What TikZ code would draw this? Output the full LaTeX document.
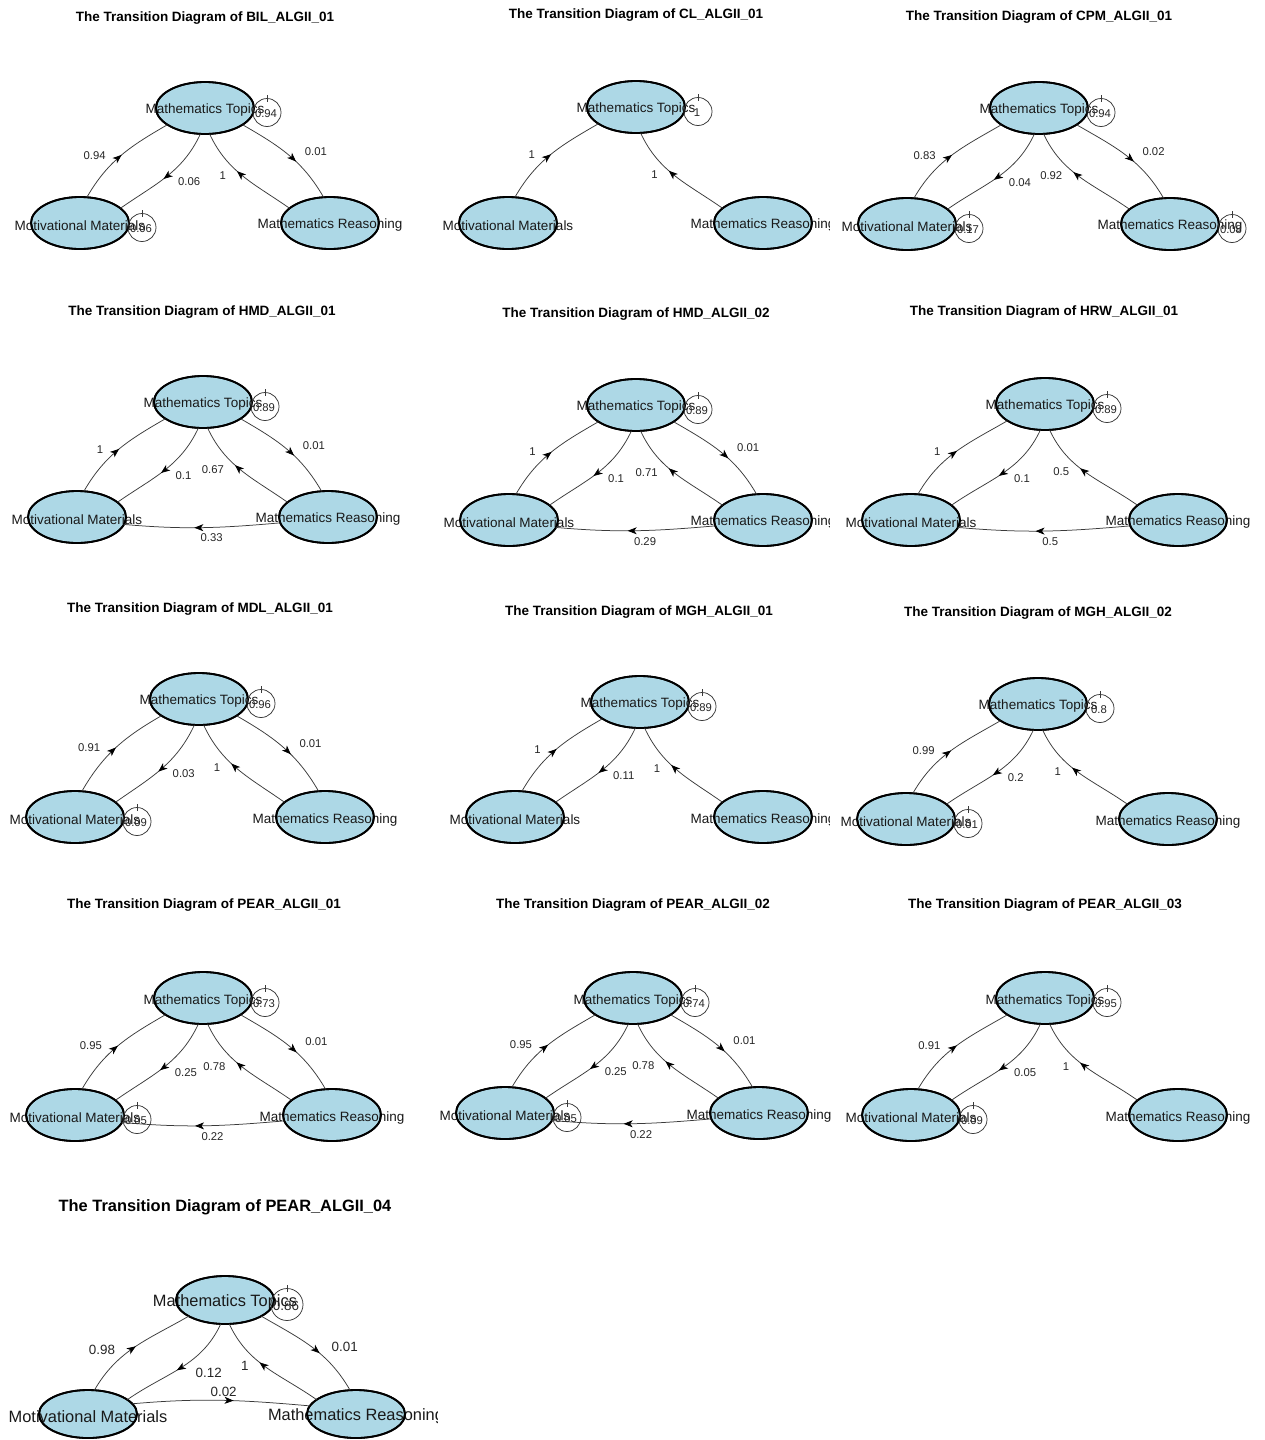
\documentclass[tikz,border=0pt]{standalone}
\usepackage{fontspec}
\setmainfont{Liberation Sans}
\usetikzlibrary{shapes.geometric,arrows.meta,decorations.markings}
\definecolor{nodeblue}{HTML}{ADD8E6}
\definecolor{edgecol}{HTML}{3A3A3A}
\def\nsize{13.5pt}\def\lsize{11.3pt}\def\tsize{13.5pt}
\def\erx{49pt}\def\ery{26pt}\def\eh{52pt}\def\lr{14pt}\def\ls{1}
\tikzset{
 st/.style={ellipse, fill=nodeblue, draw=black, line width=1.8pt, minimum width=98pt, minimum height=\eh, inner sep=0pt, outer sep=0pt},
 ntext/.style={inner sep=0pt, yshift=-2.5pt, font=\fontsize{\nsize}{\nsize}\selectfont, text=black!90},
 lab/.style={inner sep=0pt, font=\fontsize{\lsize}{\lsize}\selectfont, text=black!85},
 ttl/.style={inner sep=0pt, yshift=-2.5pt, font=\bfseries\fontsize{\tsize}{\tsize}\selectfont},
 rim/.style={draw=black, line width=1.8pt},
 ed/.style={draw=edgecol, line width=0.75pt},
 arr/.style={postaction={decorate, decoration={markings, mark=at position #1 with {\arrow{Stealth[length=9pt,width=7pt,inset=2.5pt,color=black]}}}}},
 loopc/.style={draw=edgecol, line width=0.75pt},
}
% states: id, Tx, Ty, Lx, Ly, Rx, Ry, clip x for right text
\newcommand\states[8]{%
 \node[st] (#1T) at (#2,-#3) {};
 \node[st] (#1L) at (#4,-#5) {};
 \node[st] (#1R) at (#6,-#7) {};
 \node[ntext] (#1Tt) at (#1T.center) {Mathematics Topics};
 \node[ntext] (#1Lt) at (#1L.center) {Motivational Materials};
 \begin{scope}
  \clip (#6-200,-#7+40) rectangle (#8,-#7-40);
  \node[ntext] (#1Rt) at (#1R.center) {Mathematics Reasoning};
 \end{scope}
 \draw[rim] (#1T.center) ellipse [x radius=\erx, y radius=\ery];
 \draw[rim] (#1L.center) ellipse [x radius=\erx, y radius=\ery];
 \draw[rim] (#1R.center) ellipse [x radius=\erx, y radius=\ery];
}
% connectors (id, label)
\newcommand\eLT[2]{\draw[ed,arr=0.5] (#1L.75) to[out=60,in=210] node[pos=0.47,lab,anchor=east,xshift=-13pt*\ls,yshift=2pt-3pt*(\ls-1)/0.3] (#1lt) {#2} (#1T.204);}
\newcommand\eTL[2]{\draw[ed,arr=0.53] (#1T.260) to[out=245,in=35] node[pos=0.5,lab,anchor=west,xshift=11pt*\ls,yshift=-5pt] (#1tl) {#2} (#1L.20);}
\newcommand\eRT[2]{\draw[ed,arr=0.58] (#1R.160) to[out=145,in=295] node[pos=0.55,lab,anchor=east,xshift=-13pt,yshift=-2pt] (#1rt) {#2} (#1T.280);}
\newcommand\eTR[2]{\draw[ed,arr=0.59] (#1T.336) to[out=330,in=120] node[pos=0.56,lab,anchor=west,xshift=11pt*\ls,yshift=8pt-4pt*(\ls-1)/0.3] (#1tr) {#2} (#1R.104);}
\newcommand\eRL[2]{\draw[ed,arr=0.55] (#1R.187) to[out=185,in=355] node[pos=0.52,lab,anchor=north west,xshift=1pt,yshift=-6pt] (#1rl) {#2} (#1L.351);}
\newcommand\eLR[2]{\draw[ed,arr=0.57] (#1L.13) to[out=5,in=175] node[pos=0.54,lab,anchor=south,xshift=-4pt,yshift=3pt] (#1lr) {#2} (#1R.170);}
% self loop: node, label, label name
\newcommand\selfloop[3]{%
 \draw[loopc] ([shift={(62pt,-4.5pt)}]#1.center) circle[radius=\lr];
 \draw[loopc] ([shift={(62pt,-4.5pt+\lr-3pt)}]#1.center) -- ([shift={(62pt,-4.5pt+\lr+4pt)}]#1.center);
 \node[lab] (#3) at ([shift={(61pt,-6pt)}]#1.center) {#2};
}
\begin{document}
\begin{tikzpicture}[x=1pt,y=1pt]
\useasboundingbox[fill=white] (0,0) rectangle (1265,-1440);

% ---------- BIL
\node[ttl] (ttlA) at (205,-16) {The Transition Diagram of BIL\_ALGII\_01};
\states{a}{205}{108}{80}{223}{330}{223}{1265}
\eLT{a}{0.94}\eTL{a}{0.06}\eRT{a}{1}\eTR{a}{0.01}
\selfloop{aT}{0.94}{aTl}\selfloop{aL}{0.06}{aLl}

% ---------- CL
\node[ttl] (ttlB) at (636,-13) {The Transition Diagram of CL\_ALGII\_01};
\states{b}{636}{107}{508}{223}{763}{223}{829}
\eLT{b}{1}\eRT{b}{1}
\selfloop{bT}{1}{bTl}

% ---------- CPM
\node[ttl] (ttlC) at (1039,-15) {The Transition Diagram of CPM\_ALGII\_01};
\states{c}{1039}{108}{907}{224}{1170}{224}{1265}
\eLT{c}{0.83}\eTL{c}{0.04}\eRT{c}{0.92}\eTR{c}{0.02}
\selfloop{cT}{0.94}{cTl}\selfloop{cL}{0.17}{cLl}\selfloop{cR}{0.08}{cRl}

% ---------- HMD_01
\node[ttl] (ttlD) at (202,-310) {The Transition Diagram of HMD\_ALGII\_01};
\states{d}{203}{402}{77}{517}{328}{517}{1265}
\eLT{d}{1}\eTL{d}{0.1}\eRT{d}{0.67}\eTR{d}{0.01}\eRL{d}{0.33}
\selfloop{dT}{0.89}{dTl}

% ---------- HMD_02
\node[ttl] (ttlE) at (636,-312) {The Transition Diagram of HMD\_ALGII\_02};
\states{e}{636}{405}{509}{520}{763}{520}{829}
\eLT{e}{1}\eTL{e}{0.1}\eRT{e}{0.71}\eTR{e}{0.01}\eRL{e}{0.29}
\selfloop{eT}{0.89}{eTl}

% ---------- HRW
\node[ttl] (ttlF) at (1044,-310) {The Transition Diagram of HRW\_ALGII\_01};
\states{f}{1045}{404}{911}{520}{1178}{520}{1265}
\eLT{f}{1}\eTL{f}{0.1}\eRT{f}{0.5}\eRL{f}{0.5}
\selfloop{fT}{0.89}{fTl}

% ---------- MDL
\node[ttl] (ttlG) at (200,-607) {The Transition Diagram of MDL\_ALGII\_01};
\states{g}{199}{699}{75}{817}{325}{817}{1265}
\eLT{g}{0.91}\eTL{g}{0.03}\eRT{g}{1}\eTR{g}{0.01}
\selfloop{gT}{0.96}{gTl}\selfloop{gL}{0.09}{gLl}

% ---------- MGH_01
\node[ttl] (ttlH) at (639,-610) {The Transition Diagram of MGH\_ALGII\_01};
\states{h}{640}{702}{515}{817}{763}{817}{829}
\eLT{h}{1}\eTL{h}{0.11}\eRT{h}{1}
\selfloop{hT}{0.89}{hTl}

% ---------- MGH_02
\node[ttl] (ttlI) at (1038,-611) {The Transition Diagram of MGH\_ALGII\_02};
\states{i}{1038}{704}{906}{819}{1168}{819}{1265}
\eLT{i}{0.99}\eTL{i}{0.2}\eRT{i}{1}
\selfloop{iT}{0.8}{iTl}\selfloop{iL}{0.01}{iLl}

% ---------- PEAR_01
\node[ttl] (ttlJ) at (204,-903) {The Transition Diagram of PEAR\_ALGII\_01};
\states{j}{203}{998}{75}{1115}{332}{1115}{1265}
\eLT{j}{0.95}\eTL{j}{0.25}\eRT{j}{0.78}\eTR{j}{0.01}\eRL{j}{0.22}
\selfloop{jT}{0.73}{jTl}\selfloop{jL}{0.05}{jLl}

% ---------- PEAR_02
\node[ttl] (ttlK) at (633,-903) {The Transition Diagram of PEAR\_ALGII\_02};
\states{k}{633}{998}{505}{1113}{759}{1113}{830}
\eLT{k}{0.95}\eTL{k}{0.25}\eRT{k}{0.78}\eTR{k}{0.01}\eRL{k}{0.22}
\selfloop{kT}{0.74}{kTl}\selfloop{kL}{0.05}{kLl}

% ---------- PEAR_03
\node[ttl] (ttlL) at (1045,-903) {The Transition Diagram of PEAR\_ALGII\_03};
\states{l}{1045}{998}{911}{1115}{1178}{1115}{1265}
\eLT{l}{0.91}\eTL{l}{0.05}\eRT{l}{1}
\selfloop{lT}{0.95}{lTl}\selfloop{lL}{0.09}{lLl}

% ---------- PEAR_04 (larger)
\def\nsize{16.4pt}\def\lsize{13.4pt}\def\tsize{16.4pt}\def\ery{24pt}\def\eh{48pt}\def\lr{16pt}\def\ls{1.3}
\node[ttl] (ttlM) at (225,-1205) {The Transition Diagram of PEAR\_ALGII\_04};
\states{m}{225}{1300}{88}{1414}{356}{1414}{437}
\eLT{m}{0.98}\eTL{m}{0.12}\eRT{m}{1}\eTR{m}{0.01}\eLR{m}{0.02}
\selfloop{mT}{0.86}{mTl}
\end{tikzpicture}
\end{document}
